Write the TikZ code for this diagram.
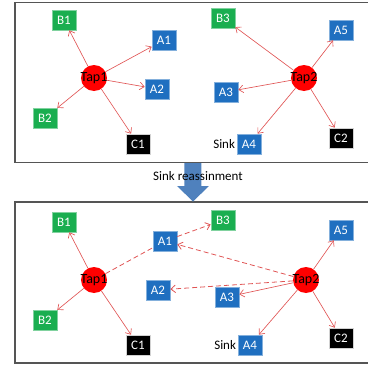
\documentclass[tikz,border=0pt]{standalone}
\usepackage{fontspec}
\setmainfont{Carlito}
\usetikzlibrary{arrows.meta}
\definecolor{boxblue}{HTML}{1F6FC0}
\definecolor{boxgreen}{HTML}{1AAE50}
\definecolor{linkred}{HTML}{E05555}
\definecolor{bigarrow}{HTML}{4F81BD}
\definecolor{framegray}{HTML}{555555}
\begin{document}
\begin{tikzpicture}[x=1pt,y=-1pt,
  lbl/.style={minimum width=24pt,minimum height=20pt,inner sep=0pt,text=white,
    font=\fontsize{13}{13}\selectfont,line width=0.6pt},
  abox/.style={lbl,fill=boxblue,draw=boxblue!55!white},
  bbox/.style={lbl,fill=boxgreen,draw=boxgreen!55!white},
  cbox/.style={lbl,fill=black,draw=gray!35},
  tapc/.style={circle,fill=red,minimum size=26pt,inner sep=0pt},
  taptxt/.style={inner sep=0pt,font=\fontsize{14}{14}\selectfont},
  sinktxt/.style={anchor=east,inner sep=1.5pt,font=\fontsize{13}{13}\selectfont},
  link/.style={draw=linkred,line width=0.65pt,-{Straight Barb[length=4.5pt,width=7.5pt]}},
  dlink/.style={link,dash pattern=on 5pt off 3pt,line width=0.8pt},
  dline/.style={draw=linkred,dash pattern=on 5pt off 3pt,line width=0.8pt},
  framebox/.style={draw=framegray,line width=1.2pt}]
\useasboundingbox (0,0) rectangle (368,367);
\begin{scope}
\clip (0,0) rectangle (368,367);
\draw[framebox] (15,2.5) rectangle (380,162.5);
\draw[framebox] (15,202) rectangle (380,363);
\end{scope}
% big arrow
\fill[bigarrow] (184.5,163) -- (201.5,163) -- (201.5,186) -- (209,186) -- (193,201.5)
  -- (177,186) -- (184.5,186) -- cycle;
\node[font=\fontsize{13}{13}\selectfont,inner sep=0pt] (caption) at (198,176) {Sink reassinment};

% ---------- top panel ----------
\node[tapc] (tap1t) at (94,78) {};
\node[taptxt] (tap1tl) at (tap1t) {Tap1};
\node[tapc] (tap2t) at (304,78) {};
\node[taptxt] (tap2tl) at (tap2t) {Tap2};
\node[bbox] (b1t) at (64,20) {B1};
\node[abox] (a1t) at (164,40) {A1};
\node[abox] (a2t) at (157,89) {A2};
\node[bbox] (b2t) at (45,118) {B2};
\node[cbox] (c1t) at (138,144) {C1};
\node[bbox] (b3t) at (223,18) {B3};
\node[abox] (a5t) at (341,30) {A5};
\node[abox] (a3t) at (226,92) {A3};
\node[abox] (a4t) at (249,144) {A4};
\node[sinktxt] (sinkt) at (a4t.west) {Sink};
\node[cbox] (c2t) at (341,138) {C2};
\foreach \n in {b1t,a1t,a2t,b2t,c1t} \draw[link] (tap1t) -- (\n);
\foreach \n in {b3t,a5t,a3t,a4t,c2t} \draw[link] (tap2t) -- (\n);

% ---------- bottom panel ----------
\node[tapc] (tap1b) at (94,280) {};
\node[taptxt] (tap1bl) at (tap1b) {Tap1};
\node[tapc] (tap2b) at (306,280) {};
\node[taptxt] (tap2bl) at (tap2b) {Tap2};
\node[bbox] (b1b) at (64,222) {B1};
\node[abox] (a1b) at (165,241) {A1};
\node[bbox] (b3b) at (223,220) {B3};
\node[abox] (a2b) at (158,290) {A2};
\node[abox] (a3b) at (227,297) {A3};
\node[bbox] (b2b) at (45,320) {B2};
\node[cbox] (c1b) at (138,345) {C1};
\node[abox] (a5b) at (341,230) {A5};
\node[abox] (a4b) at (250,345) {A4};
\node[sinktxt] (sinkb) at (a4b.west) {Sink};
\node[cbox] (c2b) at (341,338) {C2};
\foreach \n in {b1b,b2b,c1b} \draw[link] (tap1b) -- (\n);
\foreach \n in {a5b,a3b,a4b,c2b} \draw[link] (tap2b) -- (\n);
\draw[dline] (tap1b) -- (a1b);
\draw[dlink] (a1b) -- (b3b);
\draw[dlink] (tap2b) -- (a1b);
\draw[dlink] (tap2b) -- (a2b);
\end{tikzpicture}
\end{document}
